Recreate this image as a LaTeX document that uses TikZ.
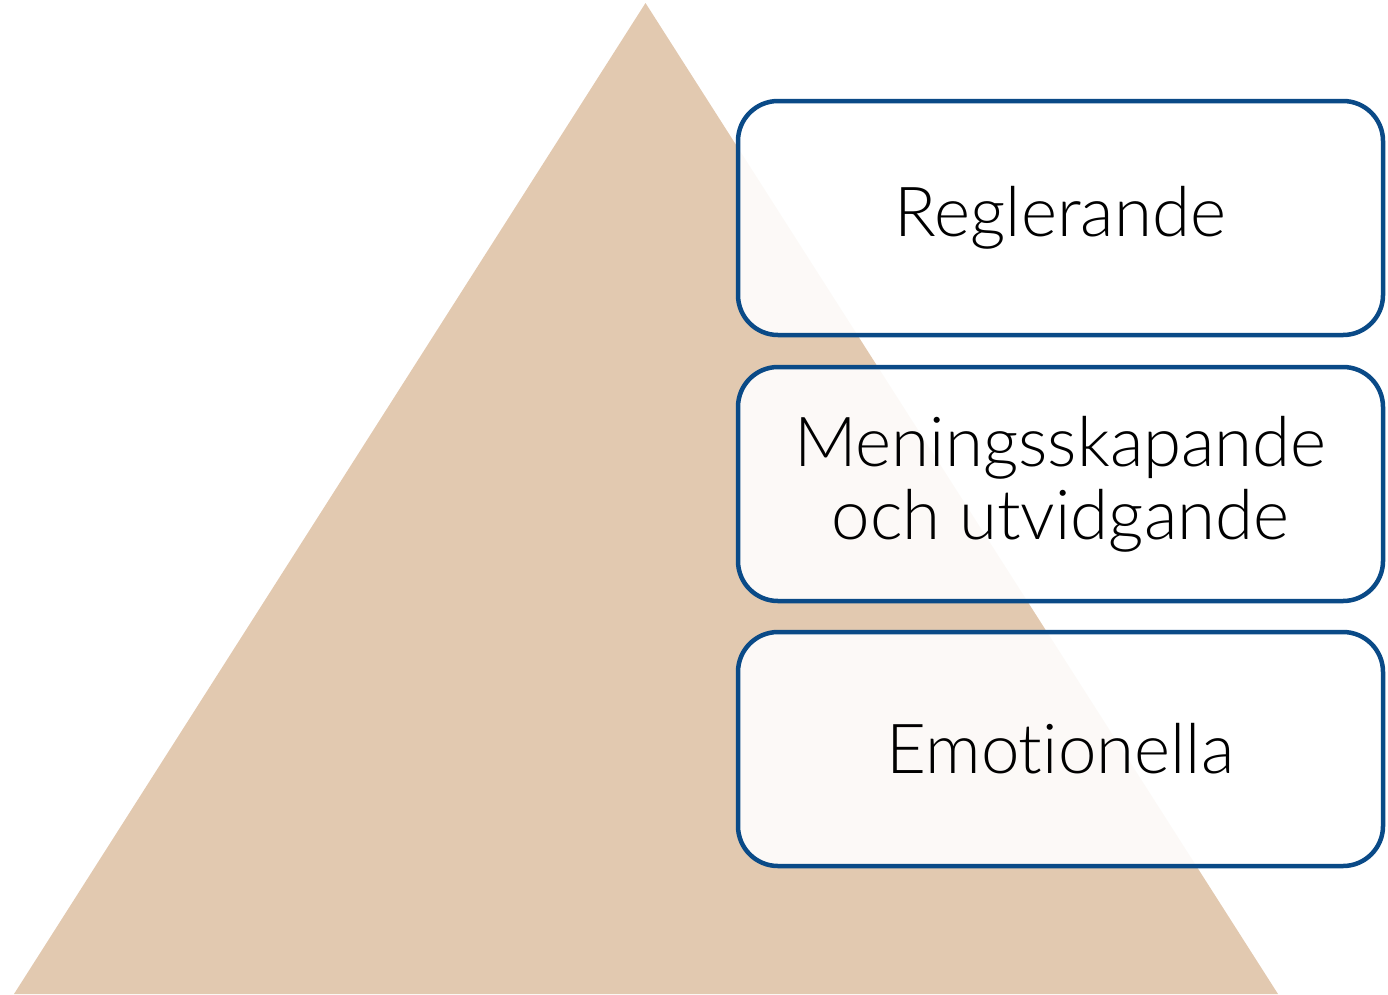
\documentclass[tikz,border=0pt]{standalone}
\usepackage{fontspec}
\setmainfont{Lato}[UprightFont=* Light, Ligatures=NoCommon]
\definecolor{pyr}{HTML}{E2C9B0}
\definecolor{edge}{HTML}{0A4A87}
\tikzset{
  levelbox/.style={draw=edge, line width=4.5pt, rounded corners=40pt, fill=white, fill opacity=0.9, text opacity=1,
    minimum width=645pt, minimum height=234pt, anchor=north west, align=center, inner sep=0pt, outer sep=0pt,
    font=\fontsize{69}{73}\selectfont}
}
\begin{document}
\begin{tikzpicture}[x=1pt,y=-1pt]
\useasboundingbox (0,0) rectangle (1388,994);
\fill[pyr] (645.5,3) -- (1278,994) -- (14,994) -- cycle;
\node[levelbox] (b1) at (738,101) {Reglerande};
\node[levelbox] (b2) at (738,367) {Meningsskapande\\och utvidgande};
\node[levelbox] (b3) at (738,632) {Emotionella};
\end{tikzpicture}
\end{document}
